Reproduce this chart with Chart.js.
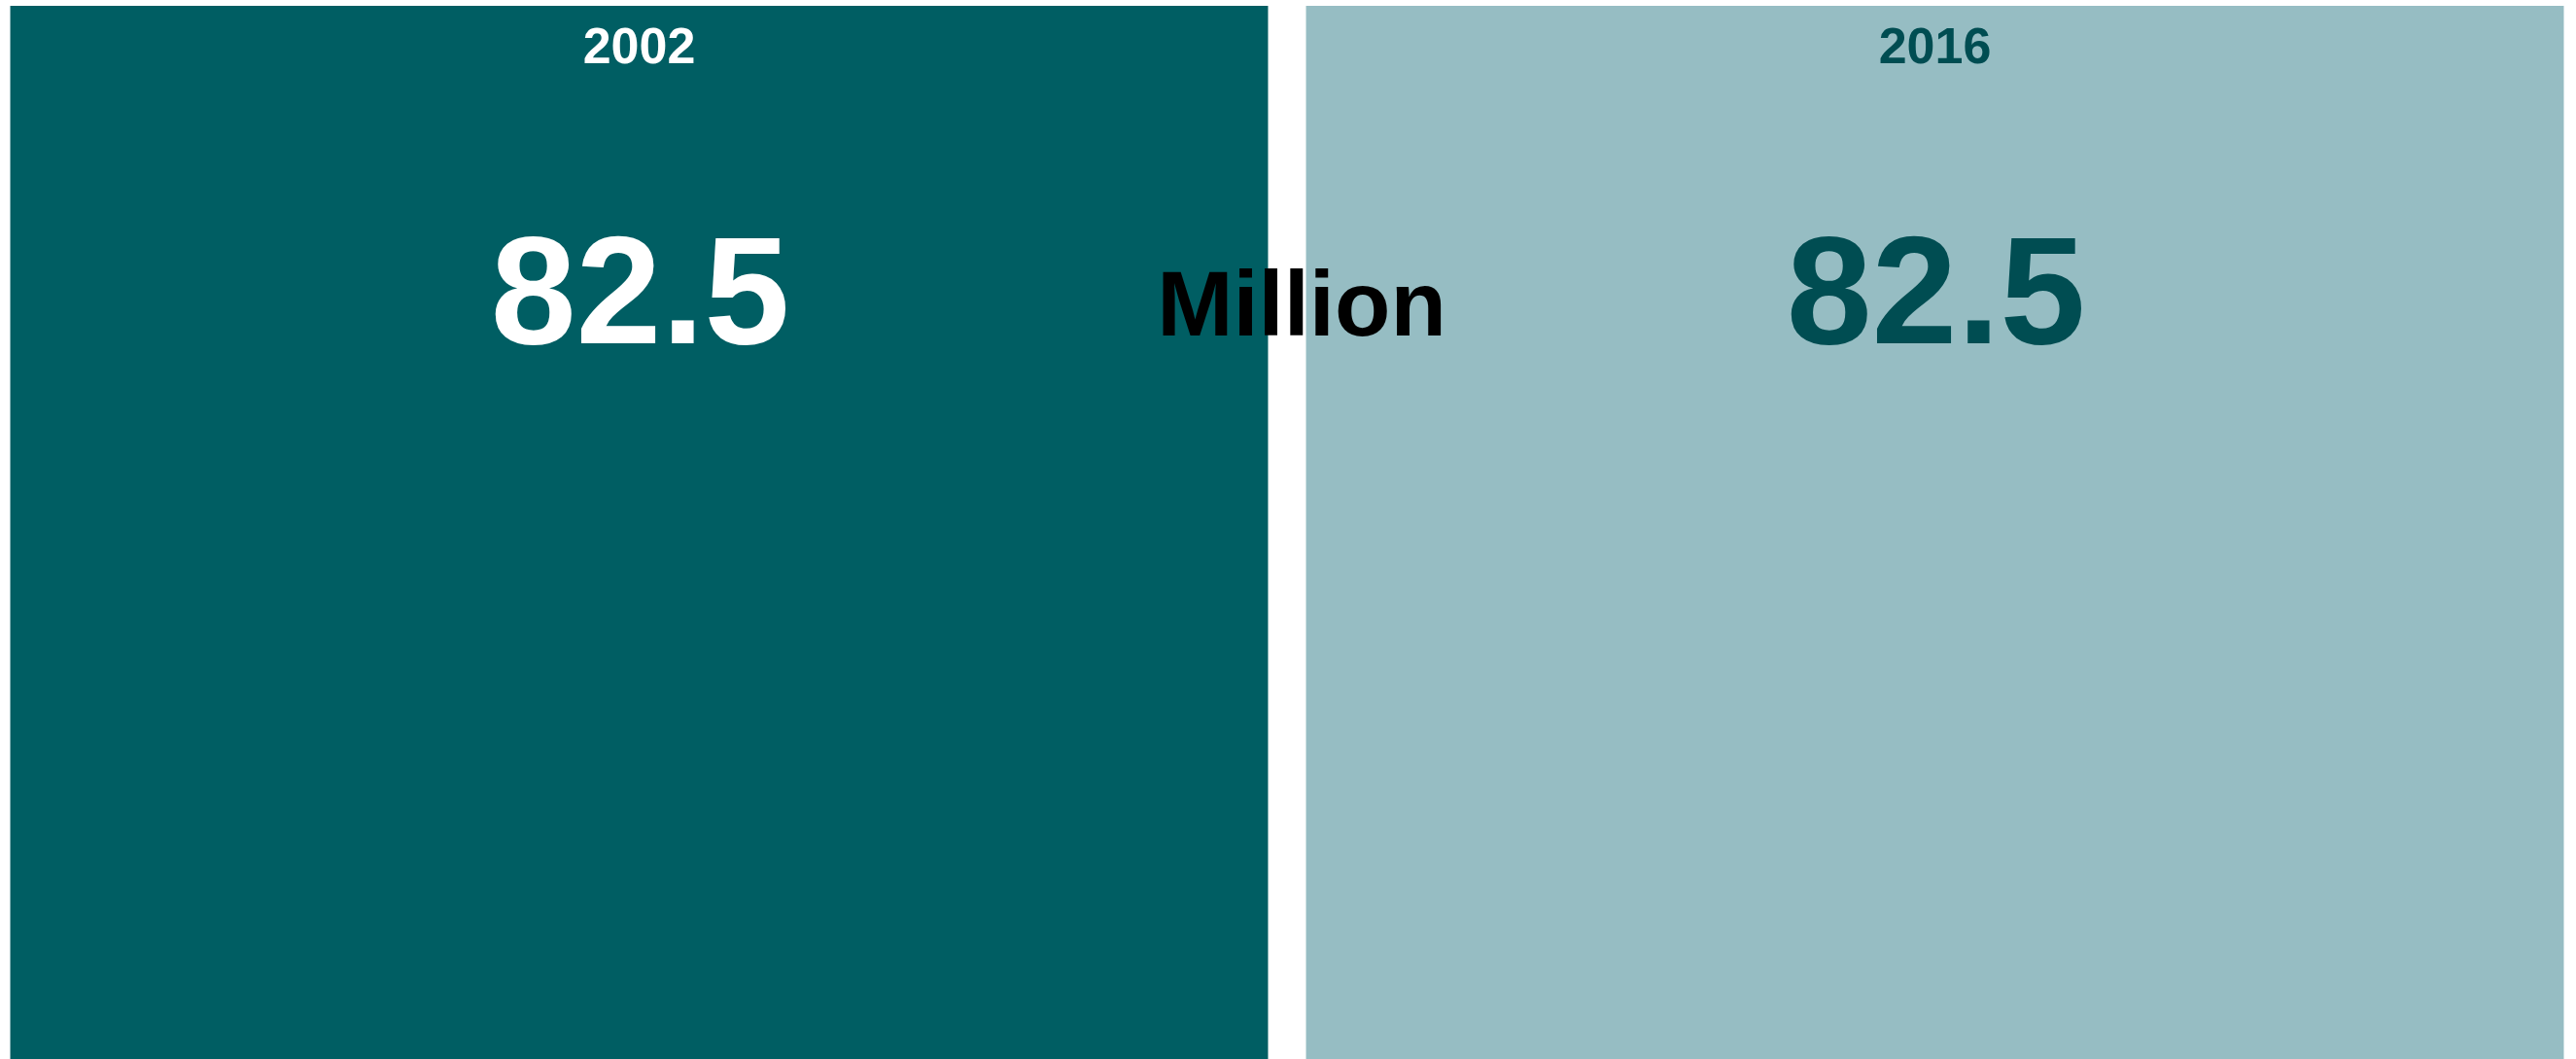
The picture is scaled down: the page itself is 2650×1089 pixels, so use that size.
<!DOCTYPE html>
<html>
<head>
<meta charset="utf-8">
<script src="https://cdn.jsdelivr.net/npm/chart.js@4.4.0/dist/chart.umd.min.js"></script>
<style>
  html, body { margin: 0; padding: 0; background: #fff; overflow: hidden; }
  #wrap { position: absolute; left: -9px; top: 0; width: 2666px; height: 1089px; }
</style>
</head>
<body>
<div id="wrap"><canvas id="chart"></canvas></div>
<script>
const years = ['2002', '2016'];
const values = [82.5, 82.5];
const unitLabel = 'Million';
const barColors = ['#005e63', '#96bdc3'];
const textColors = ['#ffffff', '#004d52'];

// draws the year, the value and the unit over the bars
const labelPlugin = {
    id: 'labels',
    afterDatasetsDraw(chart) {
        const ctx = chart.ctx;
        const x = chart.scales.x;
        const top = chart.chartArea.top;
        ctx.save();
        ctx.textAlign = 'center';
        ctx.textBaseline = 'alphabetic';
        years.forEach((yr, i) => {
            const cx = x.getPixelForValue(i);
            ctx.fillStyle = textColors[i];
            ctx.font = 'bold 52px "Liberation Sans", Arial, sans-serif';
            ctx.fillText(yr, cx, top + 59);
            ctx.font = 'bold 158px "Liberation Sans", Arial, sans-serif';
            ctx.fillText(values[i].toFixed(1), cx + 1, top + 347);
        });
        const mid = (x.getPixelForValue(0) + x.getPixelForValue(1)) / 2;
        ctx.fillStyle = '#000000';
        ctx.font = 'bold 94px "Liberation Sans", Arial, sans-serif';
        ctx.fillText(unitLabel, mid + 15, top + 339);
        ctx.restore();
    }
};

new Chart(document.getElementById('chart'), {
    type: 'bar',
    data: {
        labels: years,
        datasets: [{
            data: values,
            backgroundColor: barColors,
            borderWidth: 0,
            categoryPercentage: 1,
            barPercentage: 0.9707
        }]
    },
    options: {
        responsive: true,
        maintainAspectRatio: false,
        animation: false,
        devicePixelRatio: 1,
        layout: { padding: { top: 6, left: 0, right: 0, bottom: 0 } },
        plugins: { legend: { display: false }, tooltip: { enabled: false } },
        scales: {
            x: { display: false, offset: true },
            y: { display: false, min: 0, max: 82.5 }
        }
    },
    plugins: [labelPlugin]
});
</script>
</body>
</html>
